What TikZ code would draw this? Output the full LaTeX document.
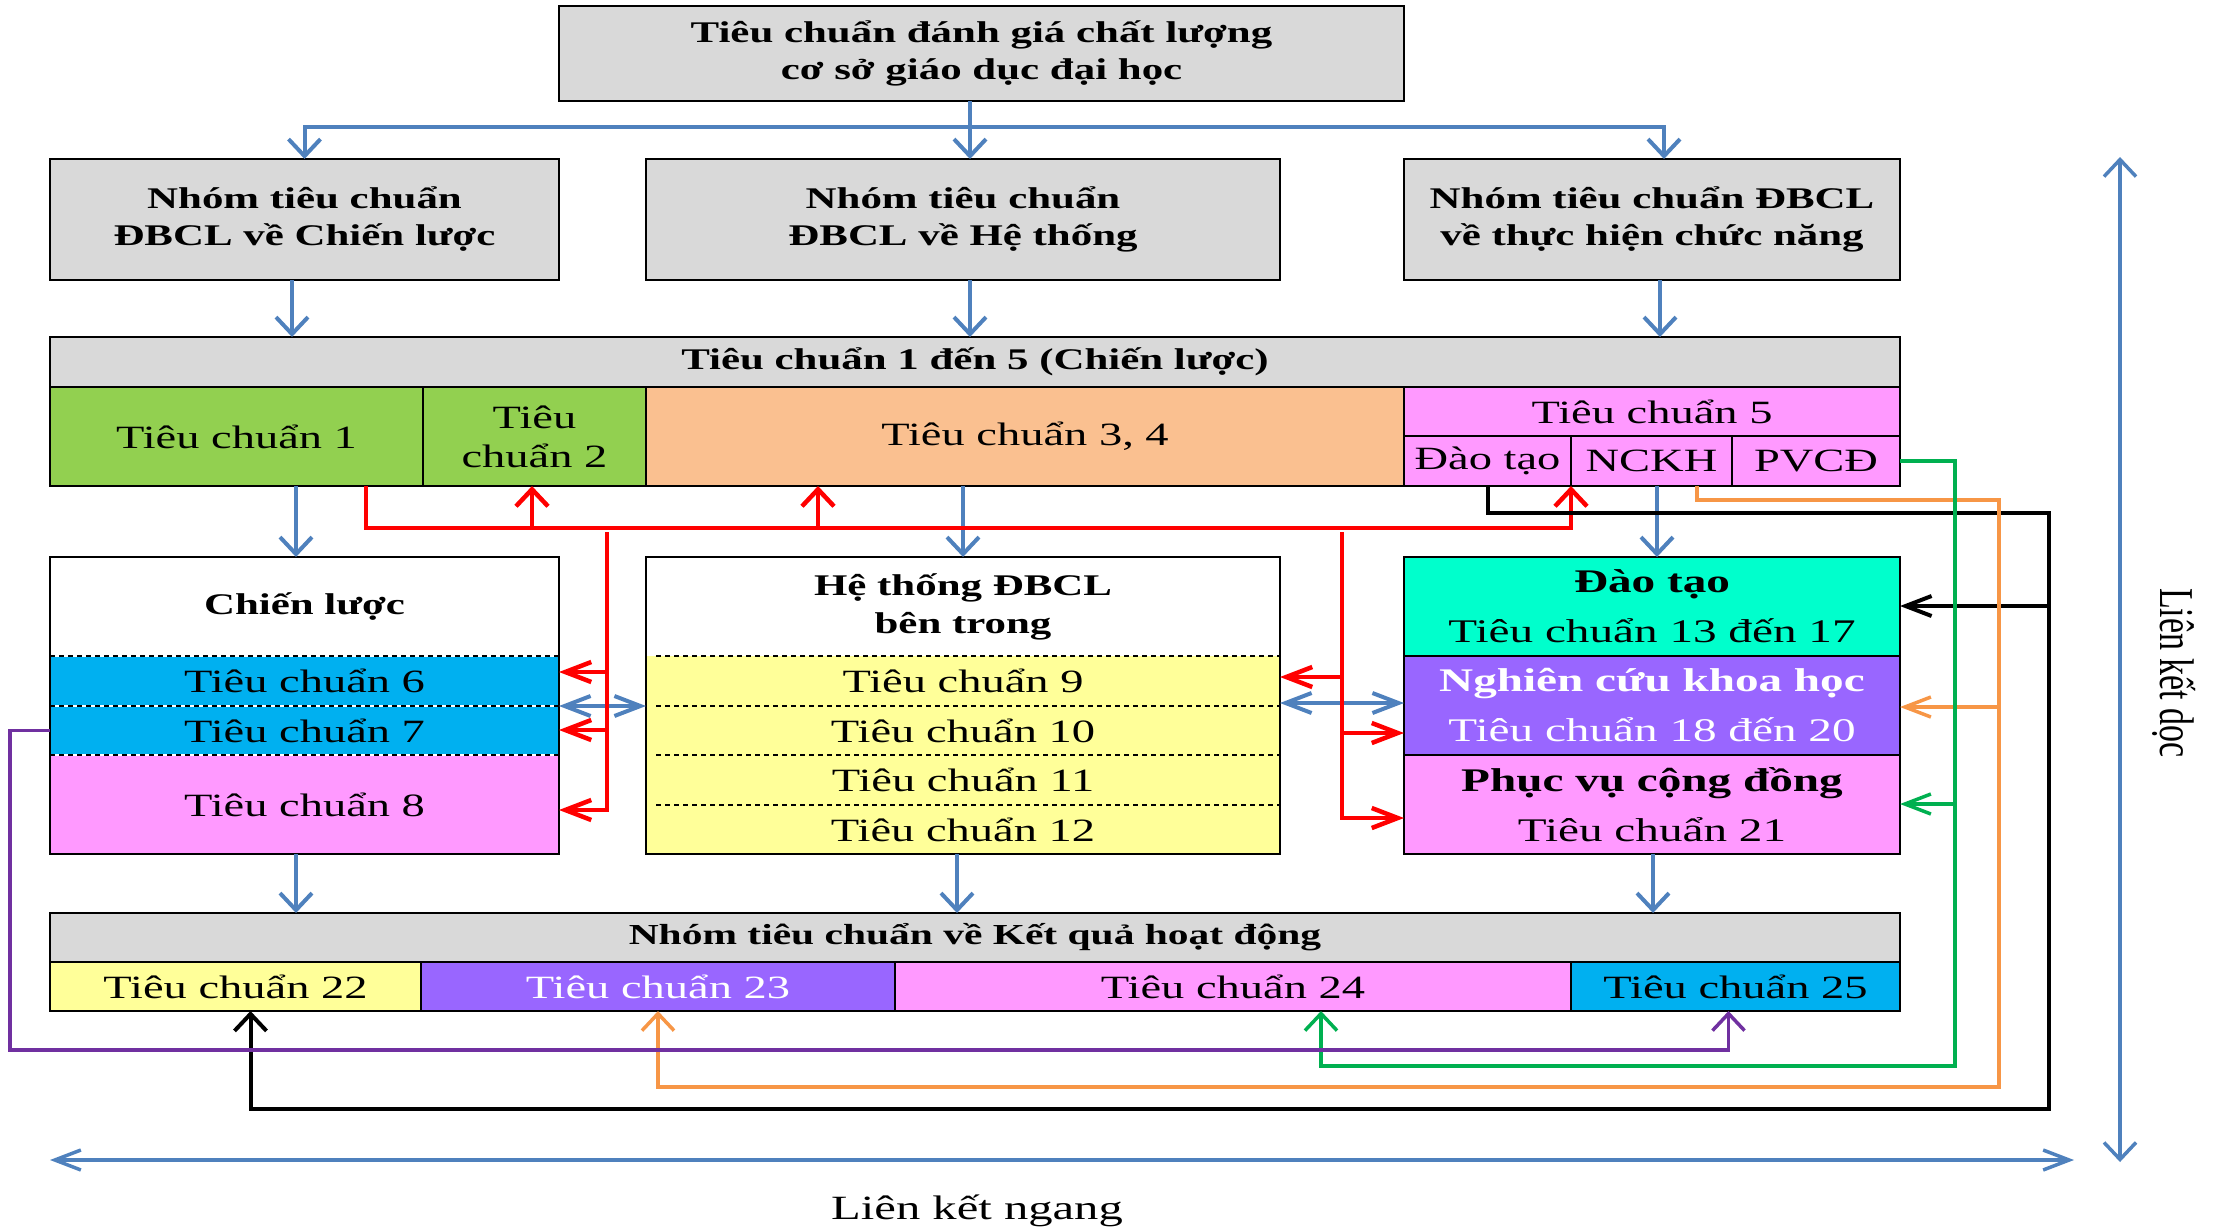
\documentclass[tikz,border=0pt]{standalone}
\usepackage{fontspec}
\usepackage{graphicx}
\setmainfont{Liberation Serif}[FakeStretch=1.43]
\newfontfamily\vertfont{Liberation Serif}
\usetikzlibrary{arrows.meta}
\definecolor{lblue}{HTML}{4F81BD}
\definecolor{gfill}{HTML}{D9D9D9}
\definecolor{grn}{HTML}{92D050}
\definecolor{orf}{HTML}{FAC090}
\definecolor{pnk}{HTML}{FF99FF}
\definecolor{teal}{HTML}{00FFCC}
\definecolor{purf}{HTML}{9966FF}
\definecolor{cyanf}{HTML}{00B0F0}
\definecolor{yelf}{HTML}{FFFF99}
\definecolor{orl}{HTML}{F79646}
\definecolor{grl}{HTML}{00B050}
\definecolor{pul}{HTML}{7030A0}
\newcommand\mybox[7]{%
 \pgfmathsetmacro\rw{#4-#2}\pgfmathsetmacro\rh{#5-#3}%
 \pgfmathsetmacro\rx{(#2+#4)/2}\pgfmathsetmacro\ry{(#3+#5)/2}%
 \node[#6, minimum width=\rw pt, minimum height=\rh pt] (#1) at (\rx,\ry) {#7};}
\begin{document}
\begin{tikzpicture}[x=1pt,y=-1pt,
 base/.style={inner sep=0pt, outer sep=0pt, align=center},
 bx/.style={base, draw=black, line width=2.5pt},
 cell/.style={base},
 nf/.style={font=\fontsize{32.5}{39}\selectfont},
 hf/.style={font=\fontsize{30}{37}\selectfont\bfseries},
 ff/.style={font=\fontsize{33}{50}\selectfont},
 bl/.style={draw=lblue, line width=4pt},
 rd/.style={draw=red, line width=4.5pt},
 bk/.style={draw=black, line width=4pt},
 orline/.style={draw=orl, line width=3.5pt},
 grline/.style={draw=grl, line width=3.5pt},
 puline/.style={draw=pul, line width=3.5pt},
 va/.style={-{Straight Barb[length=17pt,width=32pt]}},
 ha/.style={-{Straight Barb[length=26pt,width=20pt]}},
 hdd/.style={{Straight Barb[length=26pt,width=20pt]}-{Straight Barb[length=26pt,width=20pt]}},
 vdd/.style={{Straight Barb[length=17pt,width=32pt]}-{Straight Barb[length=17pt,width=32pt]}},
 sepw/.style={draw=white, line width=2pt},
 sepk/.style={draw=black, line width=2pt, dash pattern=on 5pt off 4pt}
]
\useasboundingbox (0,0) rectangle (2221,1229);

% top
\mybox{top}{559}{6}{1404}{101}{bx,fill=gfill,hf}{Tiêu chuẩn đánh giá chất lượng\\cơ sở giáo dục đại học}
% groups
\mybox{g1}{50}{159}{559}{280}{bx,fill=gfill,hf}{Nhóm tiêu chuẩn\\ĐBCL về Chiến lược}
\mybox{g2}{646}{159}{1280}{280}{bx,fill=gfill,hf}{Nhóm tiêu chuẩn\\ĐBCL về Hệ thống}
\mybox{g3}{1404}{159}{1900}{280}{bx,fill=gfill,hf}{Nhóm tiêu chuẩn ĐBCL\\về thực hiện chức năng}
% bar 1-5
\mybox{barh}{50}{337}{1900}{387}{bx,fill=gfill,hf}{Tiêu chuẩn 1 đến 5 (Chiến lược)}
\mybox{tc1}{50}{387}{423}{486}{bx,fill=grn,nf}{Tiêu chuẩn 1}
\mybox{tc2}{423}{387}{646}{486}{bx,fill=grn,nf}{Tiêu\\chuẩn 2}
\mybox{tc34}{646}{387}{1404}{486}{bx,fill=orf,nf}{Tiêu chuẩn 3, 4}
\mybox{tc5}{1404}{387}{1900}{436}{bx,fill=pnk,nf}{Tiêu chuẩn 5}
\mybox{dt5}{1404}{436}{1571}{486}{bx,fill=pnk,nf}{Đào tạo}
\mybox{nckh5}{1571}{436}{1732}{486}{bx,fill=pnk,nf}{NCKH}
\mybox{pvcd5}{1732}{436}{1900}{486}{bx,fill=pnk,nf}{PVCĐ}

% Chien luoc box
\mybox{clhead}{50}{557}{559}{656}{cell,fill=white,hf}{Chiến lược}
\mybox{tc6}{50}{656}{559}{706}{cell,fill=cyanf,nf}{Tiêu chuẩn 6}
\mybox{tc7}{50}{706}{559}{755}{cell,fill=cyanf,nf}{Tiêu chuẩn 7}
\mybox{tc8}{50}{755}{559}{854}{cell,fill=pnk,nf}{Tiêu chuẩn 8}
\foreach \n in {tc6,tc7,tc8}{
  \draw[sepw] (\n.north west) -- (\n.north east);
  \draw[sepk] (\n.north west) -- (\n.north east);
}
\mybox{cl}{50}{557}{559}{854}{bx}{}

% He thong box
\mybox{hthead}{646}{557}{1280}{656}{cell,fill=white,hf,font=\fontsize{30}{38}\selectfont\bfseries}{Hệ thống ĐBCL\\bên trong}
\mybox{tc9}{646}{656}{1280}{706}{cell,fill=yelf,nf}{Tiêu chuẩn 9}
\mybox{tc10}{646}{706}{1280}{755}{cell,fill=yelf,nf}{Tiêu chuẩn 10}
\mybox{tc11}{646}{755}{1280}{805}{cell,fill=yelf,nf}{Tiêu chuẩn 11}
\mybox{tc12}{646}{805}{1280}{854}{cell,fill=yelf,nf}{Tiêu chuẩn 12}
\foreach \n in {tc9,tc10,tc11,tc12}{
  \draw[sepk] ([xshift=10pt]\n.north west) -- (\n.north east);
}
\mybox{ht}{646}{557}{1280}{854}{bx}{}

% function box
\mybox{dtbox}{1404}{557}{1900}{656}{bx,fill=teal,ff}{\textbf{Đào tạo}\\Tiêu chuẩn 13 đến 17}
\mybox{nckhbox}{1404}{656}{1900}{755}{bx,fill=purf,ff,text=white}{\textbf{Nghiên cứu khoa học}\\Tiêu chuẩn 18 đến 20}
\mybox{pvcdbox}{1404}{755}{1900}{854}{bx,fill=pnk,ff}{\textbf{Phục vụ cộng đồng}\\Tiêu chuẩn 21}
\mybox{fn}{1404}{557}{1900}{854}{bx}{}

% results
\mybox{resh}{50}{913}{1900}{962}{bx,fill=gfill,hf,font=\fontsize{29}{36}\selectfont\bfseries}{Nhóm tiêu chuẩn về Kết quả hoạt động}
\mybox{tc22}{50}{962}{421}{1011}{bx,fill=yelf,nf}{Tiêu chuẩn 22}
\mybox{tc23}{421}{962}{895}{1011}{bx,fill=purf,nf,text=white}{Tiêu chuẩn 23}
\mybox{tc24}{895}{962}{1571}{1011}{bx,fill=pnk,nf}{Tiêu chuẩn 24}
\mybox{tc25}{1571}{962}{1900}{1011}{bx,fill=cyanf,nf}{Tiêu chuẩn 25}

% ---- blue connectors
\coordinate (sp) at (970,127);
\draw[bl] (top.south -| sp) -- (sp);
\draw[bl,va] (sp) -| (g1.north);
\draw[bl,va] (sp) -| ([xshift=12pt]g3.north);
\draw[bl,va] (sp) -- (sp |- g2.north);
\coordinate (a1) at (292,280);
\coordinate (a2) at (970,280);
\coordinate (a3) at (1660,280);
\draw[bl,va] (a1) -- (a1 |- barh.north);
\draw[bl,va] (a2) -- (a2 |- barh.north);
\draw[bl,va] (a3) -- (a3 |- barh.north);
\coordinate (b1) at (296,486);
\coordinate (b2) at (963,486);
\coordinate (b3) at (1657,486);
\draw[bl,va] (b1) -- (b1 |- cl.north);
\draw[bl,va] (b2) -- (b2 |- ht.north);
\draw[bl,va] (b3) -- (b3 |- fn.north);
\coordinate (c1) at (296,854);
\coordinate (c2) at (957,854);
\coordinate (c3) at (1653,854);
\draw[bl,va] (c1) -- (c1 |- resh.north);
\draw[bl,va] (c2) -- (c2 |- resh.north);
\draw[bl,va] (c3) -- (c3 |- resh.north);
\draw[bl,hdd] (tc7.north east) -- (tc7.north east -| ht.west);
\draw[bl,hdd] ([yshift=3pt]tc10.north east) -- ([yshift=3pt]tc10.north east -| fn.west);

% ---- red connectors
\coordinate (r0) at (366,486);
\coordinate (rh) at (1571,528);
\draw[rd,va] (r0) |- (rh) -- (dt5.south east);
\coordinate (rA) at (532,528);
\coordinate (rB) at (818,528);
\draw[rd,va] (rA) -- (rA |- tc2.south);
\draw[rd,va] (rB) -- (rB |- tc34.south);
\coordinate (rL) at (607,532);
\coordinate (rL8) at (607,810);
\coordinate (rL6) at (607,672);
\coordinate (rL7) at (607,730);
\draw[rd,ha] (rL) -- (rL8) -- (rL8 -| cl.east);
\draw[rd,ha] (rL6) -- (rL6 -| cl.east);
\draw[rd,ha] (rL7) -- (rL7 -| cl.east);
\coordinate (rR) at (1342,532);
\coordinate (rR8) at (1342,818);
\coordinate (rR9) at (1342,677);
\coordinate (rR10) at (1342,733);
\draw[rd,ha] (rR) -- (rR8) -- (rR8 -| fn.west);
\draw[rd,ha] (rR9) -- (rR9 -| ht.east);
\draw[rd,ha] (rR10) -- (rR10 -| fn.west);

% ---- black
\coordinate (kTop) at (2049,513);
\coordinate (kBot) at (2049,1109);
\coordinate (kM) at (2049,606);
\draw[bk,va] (dt5.south) |- (kTop) -- (kBot) -| ([xshift=15pt]tc22.south);
\draw[bk,ha] (kM) -- (kM -| dtbox.east);
% ---- orange
\coordinate (o0) at (1697,486);
\coordinate (oTop) at (1999,500);
\coordinate (oBot) at (1999,1087);
\coordinate (oM) at (1999,707);
\draw[orline,va] (o0) |- (oTop) -- (oBot) -| (tc23.south);
\draw[orline,ha] (oM) -- (oM -| nckhbox.east);
% ---- green
\coordinate (gTop) at (1955,461);
\coordinate (gBot) at (1955,1066);
\coordinate (gM) at (1955,804);
\draw[grline,va] (pvcd5.east) -- (gTop) -- (gBot) -| ([xshift=88pt]tc24.south);
\draw[grline,ha] (gM) -- (gM -| pvcdbox.east);
% ---- purple
\coordinate (pB) at (10,1050);
\draw[puline,va] (tc7.west) -| (pB) -| ([xshift=-7pt]tc25.south);

% ---- links
\coordinate (hL) at (50,1160);
\coordinate (hR) at (2074,1160);
\draw[bl,hdd,line width=3.5pt] (hL) -- (hR);
\node[base,font=\fontsize{34}{40}\selectfont] (lkn) at (977,1211) {Liên kết ngang};
\coordinate (vT) at (2120,157);
\coordinate (vB) at (2120,1162);
\draw[bl,vdd,line width=3.5pt] (vT) -- (vB);
\node[base,rotate=-90] (lkd) at (2174,673) {\vertfont\fontsize{34}{40}\selectfont\scalebox{1}[1.43]{Liên kết dọc}};
\end{tikzpicture}
\end{document}
